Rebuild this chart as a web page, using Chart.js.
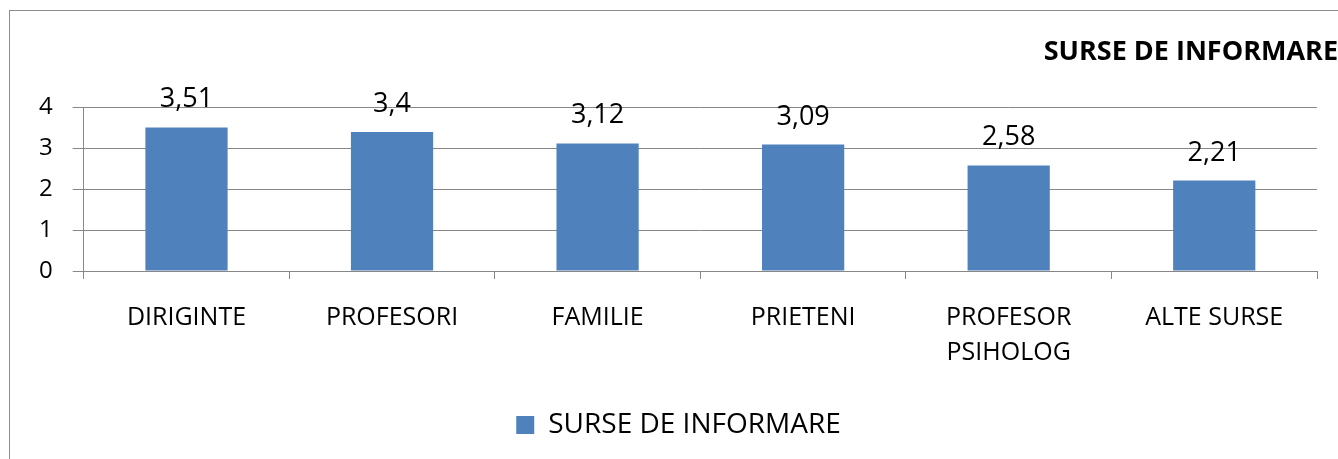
<!DOCTYPE html>
<html>
<head>
<meta charset="utf-8">
<script src="https://cdn.jsdelivr.net/npm/chart.js@4.4.0/dist/chart.umd.min.js"></script>
<style>
  body { margin: 0; background: #fff; overflow: hidden; }
  #wrap { position: relative; width: 1338px; height: 459px; }
  #frame { position: absolute; left: 9px; top: 10px; width: 1400px; height: 500px; border: 1px solid #8c8c8c; box-sizing: border-box; pointer-events: none; }
  canvas { position: absolute; left: 0; top: 0; }
</style>
</head>
<body>
<div id="wrap">
  <canvas id="myChart" width="1338" height="459"></canvas>
  <div id="frame"></div>
</div>
<script>
// Date grafic
const categories = ['DIRIGINTE', 'PROFESORI', 'FAMILIE', 'PRIETENI', ['PROFESOR', 'PSIHOLOG'], 'ALTE SURSE'];
const values = [3.51, 3.4, 3.12, 3.09, 2.58, 2.21];
const valueLabels = ['3,51', '3,4', '3,12', '3,09', '2,58', '2,21'];
const seriesName = 'SURSE DE INFORMARE';
const titleText = 'SURSE DE INFORMARE';

const fontFamily = "'Open Sans', sans-serif";
const gridColor = '#878787';

// etichete deasupra coloanelor
const barLabels = {
    id: 'barLabels',
    afterDatasetsDraw(chart) {
        const ctx = chart.ctx;
        const meta = chart.getDatasetMeta(0);
        ctx.save();
        ctx.font = '27px ' + fontFamily;
        ctx.fillStyle = '#000';
        ctx.textAlign = 'center';
        ctx.textBaseline = 'alphabetic';
        meta.data.forEach((bar, i) => {
            ctx.fillText(valueLabels[i], bar.x, bar.y - 20);
        });
        ctx.restore();
    }
};

const ctx = document.getElementById('myChart');
new Chart(ctx, {
    type: 'bar',
    data: {
        labels: categories,
        datasets: [{
            label: seriesName,
            data: values,
            backgroundColor: '#4F81BD',
            borderWidth: 0,
            categoryPercentage: 0.8,
            barPercentage: 0.5
        }]
    },
    options: {
        responsive: false,
        animation: false,
        layout: {
            padding: { left: 19, right: 0, top: 0, bottom: 10 }
        },
        plugins: {
            title: {
                display: true,
                text: titleText,
                align: 'end',
                color: '#000',
                font: { family: fontFamily, size: 27, weight: 'bold' },
                padding: { top: 36, bottom: 39 }
            },
            legend: {
                position: 'bottom',
                labels: {
                    color: '#000',
                    boxWidth: 18,
                    boxHeight: 18,
                    font: { family: fontFamily, size: 28 },
                    padding: 20
                }
            },
            tooltip: { enabled: false }
        },
        scales: {
            y: {
                min: 0,
                max: 4,
                ticks: {
                    stepSize: 1,
                    color: '#000',
                    font: { family: fontFamily, size: 24 },
                    padding: 20
                },
                grid: { color: gridColor, tickLength: 11 },
                border: { display: true, color: gridColor }
            },
            // axa goala in dreapta, doar pentru spatiu
            yRight: {
                position: 'right',
                display: true,
                grid: { display: false },
                border: { display: false },
                ticks: { display: false },
                afterFit(scale) { scale.width = 21; }
            },
            x: {
                grid: { drawOnChartArea: false, tickLength: 8, color: gridColor, offset: true },
                border: { display: true, color: gridColor },
                ticks: {
                    color: '#000',
                    font: { family: fontFamily, size: 25, lineHeight: 1.4 },
                    padding: 21,
                    maxRotation: 0
                }
            }
        }
    },
    plugins: [barLabels]
});
</script>
</body>
</html>
